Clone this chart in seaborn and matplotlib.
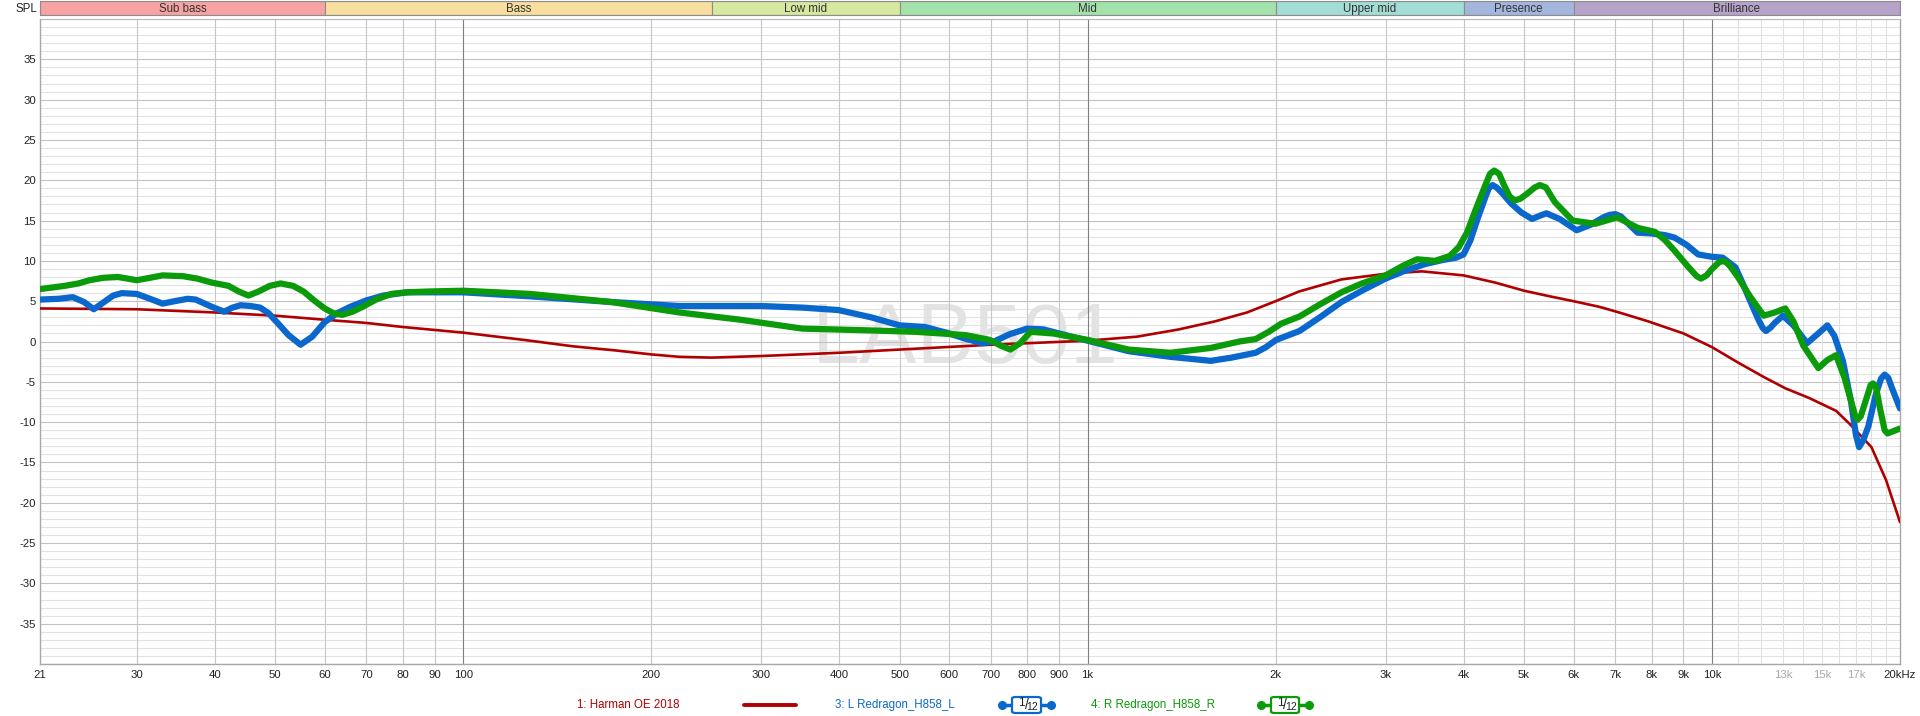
import numpy as np
import pandas as pd
import matplotlib
matplotlib.use("Agg")
import matplotlib.pyplot as plt
import seaborn as sns
from matplotlib import font_manager
from matplotlib.patches import FancyBboxPatch
from matplotlib.lines import Line2D

# ---------------- data ----------------
harman_freq = [21, 30, 40, 50, 60, 70, 80, 100, 125, 150, 175, 200, 222, 250, 300, 400,
               500, 700, 1000, 1200, 1400, 1600, 1800, 2000, 2180, 2550, 3000, 3430, 4000,
               4500, 5000, 5500, 6000, 6600, 7100, 7900, 9000, 10000, 11000, 12100, 13100,
               14300, 15800, 16600, 18000, 19000, 20000]
harman_db = [4.1, 4.0, 3.6, 3.2, 2.7, 2.3, 1.8, 1.1, 0.2, -0.6, -1.1, -1.6, -1.9, -2.0, -1.8, -1.4,
             -1.0, -0.4, 0.1, 0.6, 1.5, 2.5, 3.6, 5.0, 6.2, 7.7, 8.4, 8.7, 8.2,
             7.3, 6.3, 5.6, 5.0, 4.3, 3.6, 2.5, 1.0, -0.7, -2.6, -4.4, -5.8,
             -7.0, -8.6, -10.2, -13.1, -17.2, -22.4]

left_freq = [21, 22.5, 23.7, 24.7, 25.6, 26.6, 27.5, 28.4, 30, 31.5, 33, 34.5, 36.2, 37.3,
             39.3, 41.4, 42.7, 44, 45.7, 47.3, 48.8, 50.3, 52.5, 54.9, 57.3, 60, 62.8, 65.9,
             70, 74.5, 81.4, 94.6, 100, 128, 172.6, 222, 300, 350, 399, 450, 500, 549, 600,
             640, 678, 708, 750, 800, 850, 900, 1000, 1163, 1356, 1574, 1700, 1858, 1930,
             2004, 2184, 2355, 2550, 2750, 3000, 3230, 3470, 3700, 3890, 4000, 4100, 4220,
             4330, 4390, 4450, 4520, 4600, 4770, 4950, 5150, 5300, 5430, 5700, 6070, 6400,
             6700, 6850, 7000, 7150, 7300, 7600, 8000, 8400, 8700, 9100, 9500, 10000, 10400,
             10900, 11200, 11500, 11850, 12050, 12200, 12400, 12600, 12990, 13500, 14200,
             14800, 15300, 15700, 16200, 16700, 17000, 17200, 17450, 17800, 18300, 18650,
             18900, 19150, 19400, 20000]
left_db = [5.2, 5.3, 5.5, 4.9, 4.0, 4.9, 5.7, 6.0, 5.9, 5.3, 4.7, 5.0, 5.3, 5.2,
           4.4, 3.7, 4.2, 4.5, 4.4, 4.2, 3.5, 2.4, 0.8, -0.4, 0.6, 2.4, 3.5, 4.3,
           5.1, 5.7, 6.1, 6.1, 6.1, 5.6, 4.9, 4.4, 4.4, 4.2, 3.9, 3.0, 2.0, 1.8, 1.0,
           0.3, -0.2, 0.0, 0.9, 1.6, 1.5, 1.0, 0.1, -1.2, -1.9, -2.4, -2.0, -1.4, -0.7,
           0.2, 1.3, 3.0, 4.9, 6.3, 7.8, 8.8, 9.6, 10.1, 10.4, 10.8, 12.5, 15.4,
           17.8, 19.0, 19.4, 19.1, 18.5, 17.1, 16.0, 15.2, 15.6, 15.9, 15.2, 13.8, 14.5,
           15.4, 15.7, 15.8, 15.5, 14.8, 13.5, 13.4, 13.2, 12.9, 12.0, 10.8, 10.5, 10.4,
           9.2, 7.2, 5.1, 2.8, 1.7, 1.3, 1.7, 2.3, 3.2, 2.0, -0.2,
           1.0, 2.0, 0.7, -2.4, -7.5, -11.6, -13.1, -12.3, -10.5, -6.5, -4.6,
           -4.1, -4.5, -5.7, -8.3]

right_freq = [21, 23, 24.2, 25.2, 26.5, 28, 29, 30, 31.5, 33, 35.6, 37.5, 39.6, 42.1, 43.7,
              45.3, 47, 49, 51, 53.4, 55.5, 57.7, 60, 62, 64, 66.5, 69, 72.5, 76.7, 81, 87.9,
              100, 128, 172.6, 222, 278, 349, 437, 531, 637, 697, 725, 752, 780, 810, 880,
              1000, 1163, 1356, 1574, 1750, 1858, 1950, 2040, 2184, 2355, 2550, 2750, 3000,
              3200, 3370, 3600, 3800, 3930, 4050, 4180, 4330, 4410, 4480, 4560, 4650, 4740,
              4830, 4930, 5050, 5200, 5300, 5420, 5600, 5980, 6500, 7050, 7600, 8100, 8400,
              8700, 9150, 9450, 9600, 9800, 10000, 10250, 10400, 10550, 10700, 11000, 11500,
              12100, 12600, 13100, 13500, 14000, 14800, 15300, 15800, 16300, 16950, 17100,
              17300, 17600, 17950, 18100, 18300, 18600, 18900, 19100, 19400, 20000]
right_db = [6.5, 6.9, 7.2, 7.6, 7.9, 8.0, 7.8, 7.6, 7.9, 8.2, 8.1, 7.8, 7.3, 6.9, 6.2,
            5.7, 6.2, 6.9, 7.2, 6.9, 6.2, 5.1, 4.1, 3.5, 3.3, 3.7, 4.3, 5.2, 5.9, 6.1, 6.2,
            6.3, 5.9, 4.9, 3.6, 2.7, 1.6, 1.4, 1.2, 0.8, 0.2, -0.5, -1.0, -0.2, 1.2, 1.0,
            0.2, -1.0, -1.4, -0.8, 0.0, 0.3, 1.2, 2.2, 3.1, 4.6, 6.1, 7.2, 8.2,
            9.4, 10.2, 10.0, 10.6, 11.7, 13.5, 16.3, 19.3, 20.8, 21.2, 20.8, 19.3, 18.0,
            17.5, 17.7, 18.3, 19.1, 19.4, 19.1, 17.3, 15.0, 14.6, 15.4, 14.1, 13.6, 12.6,
            11.3, 9.3, 8.1, 7.8, 8.2, 9.0, 9.8, 10.0, 9.8, 9.3, 8.0, 5.6,
            3.2, 3.6, 4.1, 2.5, -0.5, -3.3, -2.3, -1.7, -4.5, -9.2, -9.7,
            -9.3, -7.5, -5.4, -5.2, -5.6, -8.5, -11.0, -11.4, -11.2, -10.8]

series_names = ["1: Harman OE 2018", "3: L Redragon_H858_L", "4: R Redragon_H858_R"]

band_names = ["Sub bass", "Bass", "Low mid", "Mid", "Upper mid", "Presence", "Brilliance"]
band_edges = [21, 60, 250, 500, 2000, 4000, 6000, 20000]
band_colors = ["#F7A3A3", "#F8DF9F", "#D6E99E", "#A3E2AA", "#A3DDD6", "#A3B6DD", "#B6A3CA"]

x_tick_values = [21, 30, 40, 50, 60, 70, 80, 90, 100, 200, 300, 400, 500, 600, 700, 800, 900,
                 1000, 2000, 3000, 4000, 5000, 6000, 7000, 8000, 9000, 10000, 13000, 15000,
                 17000, 20000]
x_tick_labels = ["21", "30", "40", "50", "60", "70", "80", "90", "100", "200", "300", "400",
                 "500", "600", "700", "800", "900", "1k", "2k", "3k", "4k", "5k", "6k", "7k",
                 "8k", "9k", "10k", "13k", "15k", "17k", "20kHz"]
y_tick_values = [35, 30, 25, 20, 15, 10, 5, 0, -5, -10, -15, -20, -25, -30, -35]

# ---------------- style ----------------
sns.set_theme(style="white")
available = {f.name for f in font_manager.fontManager.ttflist}
if "Liberation Sans Narrow" in available:
    main_font = "Liberation Sans Narrow"
    fs_tick, fs_band, fs_leg, wm_size = 9.2, 9.4, 9.8, 70
else:
    main_font = "Liberation Sans"
    fs_tick, fs_band, fs_leg, wm_size = 8.2, 8.3, 8.3, 62
plt.rcParams["font.family"] = [main_font, "DejaVu Sans"]

W, H = 1920, 716
fig = plt.figure(figsize=(W / 100, H / 100), dpi=100)
fig.patch.set_facecolor("white")

def fx(px):
    return px / W

def fy(py):
    return 1 - py / H

ax = fig.add_axes([fx(40), fy(664), fx(1860), 645 / H])
ax.set_xscale("log")
ax.set_xlim(21, 20000)
ax.set_ylim(-40, 40)
ax.set_facecolor("white")

# watermark
ax.text(0.4973, 0.5, "LAB501", transform=ax.transAxes, ha="center", va="center",
        fontsize=wm_size, color="#E3E3E3", zorder=0.2)

# grid
for v in range(-40, 41):
    ax.axhline(v, color="#C2C2C2" if v % 5 == 0 else "#E2E2E2", lw=0.8, zorder=0.5)
grid_mid = [30, 40, 50, 60, 70, 80, 90, 200, 300, 400, 500, 600, 700, 800, 900,
            2000, 3000, 4000, 5000, 6000, 7000, 8000, 9000]
for f in grid_mid:
    ax.axvline(f, color="#C6C6C6", lw=0.8, zorder=0.6)
for f in [100, 1000, 10000]:
    ax.axvline(f, color="#808080", lw=0.8, zorder=0.7)
for f in range(11000, 20000, 1000):
    ax.axvline(f, color="#E0E0E0", lw=0.8, zorder=0.6)

# curves
df_h = pd.DataFrame({"freq": harman_freq, "db": harman_db})
df_l = pd.DataFrame({"freq": left_freq, "db": left_db})
df_r = pd.DataFrame({"freq": right_freq, "db": right_db})
sns.lineplot(data=df_h, x="freq", y="db", color="#B00000", lw=1.9, ax=ax,
             estimator=None, legend=False, zorder=3, solid_joinstyle="round")
sns.lineplot(data=df_l, x="freq", y="db", color="#0A68CC", lw=4.5, ax=ax,
             estimator=None, legend=False, zorder=4, solid_capstyle="round",
             solid_joinstyle="round")
sns.lineplot(data=df_r, x="freq", y="db", color="#0A9A0A", lw=4.5, ax=ax,
             estimator=None, legend=False, zorder=5, solid_capstyle="round",
             solid_joinstyle="round")

ax.set_xlabel("")
ax.set_ylabel("")
ax.set_xticks(x_tick_values)
ax.set_xticklabels(x_tick_labels)
ax.xaxis.set_minor_locator(matplotlib.ticker.NullLocator())
ax.set_yticks(y_tick_values)
ax.set_yticklabels([str(v) for v in y_tick_values])
ax.tick_params(axis="both", length=0, labelsize=fs_tick, colors="#222222")
ax.tick_params(axis="x", pad=4)
ax.tick_params(axis="y", pad=3)
for lab in ax.get_xticklabels():
    if lab.get_text() in ("13k", "15k", "17k"):
        lab.set_color("#A8A8A8")
for side in ["left", "bottom", "right"]:
    ax.spines[side].set_color("#A8A8A8")
    ax.spines[side].set_linewidth(1.0)
ax.spines["top"].set_color("#B8B8B8")
ax.spines["top"].set_linewidth(0.8)
ax.grid(False)

# frequency band strip
axb = fig.add_axes([fx(40), fy(15), fx(1860), 14 / H])
axb.set_xscale("log")
axb.set_xlim(21, 20000)
axb.set_ylim(0, 1)
for name, lo, hi, col in zip(band_names, band_edges[:-1], band_edges[1:], band_colors):
    axb.axvspan(lo, hi, color=col, ec="#8C8C8C", lw=0.8)
    axb.text(np.sqrt(lo * hi), 0.45, name, ha="center", va="center", fontsize=fs_band,
             color="#333333")
axb.set_xticks([])
axb.set_yticks([])
axb.xaxis.set_minor_locator(matplotlib.ticker.NullLocator())
for s in axb.spines.values():
    s.set_color("#8C8C8C")
    s.set_linewidth(0.8)

fig.text(fx(37), fy(9), "SPL", ha="right", va="center", fontsize=fs_band, color="#222222")

# legend
ly = 705
colors = ["#B00000", "#0A68CC", "#0A9A0A"]
fig.text(fx(577), fy(ly), series_names[0], ha="left", va="center", fontsize=fs_leg,
         color=colors[0])
fig.add_artist(Line2D([fx(744), fx(796)], [fy(ly), fy(ly)], color=colors[0], lw=2.8,
                      transform=fig.transFigure))
fig.text(fx(835), fy(ly), series_names[1], ha="left", va="center", fontsize=fs_leg,
         color=colors[1])
fig.text(fx(1091), fy(ly), series_names[2], ha="left", va="center", fontsize=fs_leg,
         color=colors[2])

def icon(x0, x1, col):
    fig.add_artist(Line2D([fx(x0 + 3), fx(x1 - 3)], [fy(ly), fy(ly)], color=col, lw=2.5,
                          transform=fig.transFigure, zorder=5))
    fig.add_artist(Line2D([fx(x0 + 3), fx(x1 - 3)], [fy(ly), fy(ly)], color=col, lw=0,
                          marker="o", markersize=5.5, transform=fig.transFigure, zorder=6))
    bx0 = x0 + 13
    bw = (x1 - x0) - 26
    box = FancyBboxPatch((fx(bx0), fy(ly + 8)), fx(bw), 16 / H,
                         boxstyle="round,pad=0,rounding_size=0.002",
                         fc="white", ec=col, lw=1.6, transform=fig.transFigure, zorder=7)
    fig.add_artist(box)
    fig.text(fx(bx0 + bw / 2 - 5), fy(ly - 2), "1", ha="center", va="center",
             fontsize=8.5, color="#222222", zorder=8)
    fig.text(fx(bx0 + bw / 2), fy(ly), "/", ha="center", va="center",
             fontsize=10, color="#222222", zorder=8)
    fig.text(fx(bx0 + bw / 2 + 6), fy(ly + 2), "12", ha="center", va="center",
             fontsize=7.5, color="#222222", zorder=8)

icon(999, 1054, colors[1])
icon(1258, 1312, colors[2])

fig.savefig("out.png", dpi=100, facecolor="white")
